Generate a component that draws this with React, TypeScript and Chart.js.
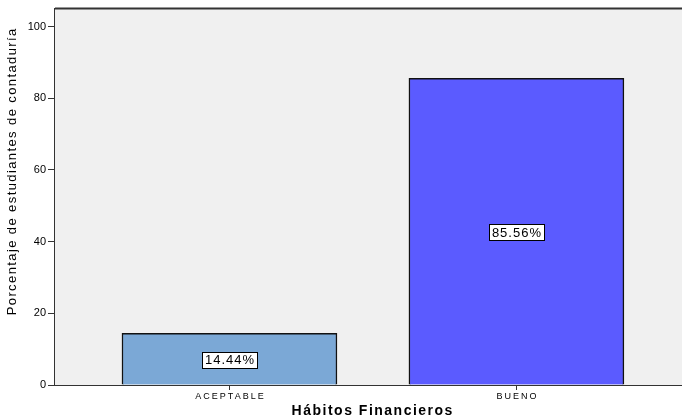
import React, { useEffect, useRef } from "react";
import { Chart, registerables } from "chart.js";

Chart.register(...registerables);

const categories = ["ACEPTABLE", "BUENO"];
const percentages = [14.44, 85.56];
const valueLabels = ["14.44%", "85.56%"];
const barColors = ["#7BA8D6", "#5B5BFF"];
const yTicks = [0, 20, 40, 60, 80, 100];
const xTitle = "Hábitos Financieros";
const yTitle = "Porcentaje de estudiantes de contaduría";

const FONT = "'Liberation Sans', Arial, sans-serif";

function drawSpaced(ctx: any, text: string, x: number, y: number, spacing: number) {
  ctx.letterSpacing = spacing + "px";
  const w = ctx.measureText(text).width - spacing;
  ctx.textAlign = "left";
  ctx.fillText(text, x - w / 2, y);
  ctx.letterSpacing = "0px";
}

const framePlugin = {
  id: "frame",
  beforeDatasetsDraw(chart: any) {
    const { ctx, chartArea } = chart;
    ctx.save();
    ctx.fillStyle = "#F0F0F0";
    ctx.fillRect(chartArea.left, chartArea.top, chartArea.right - chartArea.left, chartArea.bottom - chartArea.top);
    ctx.strokeStyle = "#333333";
    ctx.lineWidth = 2;
    ctx.beginPath();
    ctx.moveTo(chartArea.left, chartArea.top);
    ctx.lineTo(chartArea.right, chartArea.top);
    ctx.stroke();
    ctx.restore();
  },
};

const textPlugin = {
  id: "texts",
  afterDraw(chart: any) {
    const { ctx } = chart;
    const meta = chart.getDatasetMeta(0);
    const xs = chart.scales.x;
    ctx.save();
    // value boxes
    ctx.font = `13px ${FONT}`;
    ctx.textBaseline = "middle";
    meta.data.forEach((bar: any, i: number) => {
      const text = valueLabels[i];
      const cx = bar.x;
      const cy = (bar.y + bar.base) / 2 + 1;
      ctx.letterSpacing = "1px";
      const w = ctx.measureText(text).width - 1 + 6;
      ctx.letterSpacing = "0px";
      const h = 16;
      const bx = Math.round(cx - w / 2) + 0.5;
      const by = Math.round(cy - h / 2) + 0.5;
      ctx.fillStyle = "#FFFFFF";
      ctx.fillRect(bx, by, Math.round(w), h);
      ctx.strokeStyle = "#000000";
      ctx.lineWidth = 1;
      ctx.strokeRect(bx, by, Math.round(w), h);
      ctx.fillStyle = "#000000";
      drawSpaced(ctx, text, cx, cy + 1, 1);
    });
    // x category labels
    ctx.fillStyle = "#000000";
    ctx.font = `9px ${FONT}`;
    categories.forEach((c, i) => {
      drawSpaced(ctx, c, xs.getPixelForValue(i), 397, 2);
    });
    // x title
    ctx.font = `bold 14px ${FONT}`;
    drawSpaced(ctx, xTitle, 372, 411, 1.5);
    // y title
    ctx.font = `13px ${FONT}`;
    ctx.translate(12, 172);
    ctx.rotate(-Math.PI / 2);
    drawSpaced(ctx, yTitle, 0, 0, 1.4);
    ctx.restore();
  },
};

export default function App() {
  const canvasRef = useRef<HTMLCanvasElement | null>(null);

  useEffect(() => {
    if (!canvasRef.current) return;
    const chart = new Chart(canvasRef.current, {
      type: "bar",
      data: {
        datasets: [
          {
            data: categories.map((_, i) => ({ x: i, y: percentages[i] })),
            backgroundColor: barColors,
            borderColor: "#111111",
            borderWidth: 1.5,
            barThickness: 215,
          } as any,
        ],
      },
      plugins: [framePlugin, textPlugin],
      options: {
        animation: false,
        responsive: false,
        maintainAspectRatio: false,
        layout: { padding: { top: 5, right: 0, left: 0, bottom: 0 } },
        plugins: { legend: { display: false }, tooltip: { enabled: false } },
        scales: {
          x: {
            type: "linear",
            offset: false,
            min: -0.608,
            max: 1.577,
            afterBuildTicks: (axis: any) => {
              axis.ticks = categories.map((_, i) => ({ value: i }));
            },
            afterFit: (axis: any) => {
              axis.height = 35;
            },
            ticks: { display: false },
            grid: { offset: false, drawOnChartArea: false, drawTicks: true, tickLength: 5, color: "#333333", lineWidth: 1 },
            border: { display: true, color: "#333333", width: 2 },
          },
          y: {
            min: 0,
            max: 105,
            afterBuildTicks: (axis: any) => {
              axis.ticks = yTicks.map((v) => ({ value: v }));
            },
            afterFit: (axis: any) => {
              axis.width = 55;
            },
            ticks: {
              padding: 2,
              color: "#000000",
              font: { family: FONT, size: 11 },
            },
            grid: { drawOnChartArea: false, drawTicks: true, tickLength: 7, color: "#333333", lineWidth: 1 },
            border: { display: true, color: "#333333", width: 2 },
          },
        },
      } as any,
    });
    return () => chart.destroy();
  }, []);

  return (
    <div style={{ position: "fixed", left: 0, top: 0, width: 682, height: 420, background: "#FFFFFF" }}>
      <canvas ref={canvasRef} width={682} height={420} style={{ width: 682, height: 420, display: "block" }} />
    </div>
  );
}
